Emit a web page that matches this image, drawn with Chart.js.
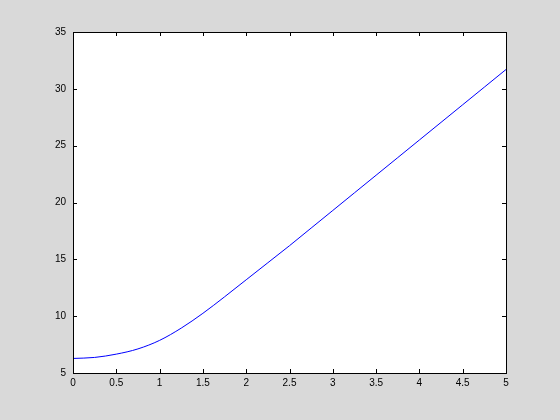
<!DOCTYPE html>
<html>
<head>
<meta charset="utf-8">
<script src="https://cdn.jsdelivr.net/npm/chart.js@4"></script>
<style>
  html, body { margin: 0; padding: 0; background: #d9d9d9; }
  #wrap { width: 560px; height: 420px; }
</style>
</head>
<body>
<div id="wrap"><canvas id="plot" width="560" height="420"></canvas></div>
<script>
// values
let xValues = [0, 0.25, 0.5, 0.75, 1, 1.25, 1.5, 1.75, 2, 2.25, 2.5, 2.75, 3, 3.25, 3.5, 3.75, 4, 4.25, 4.5, 4.75, 5]
let yValues = [6.28, 6.37, 6.66, 7.12, 7.87, 8.95, 10.25, 11.7, 13.2, 14.7, 16.2, 17.75, 19.3, 20.85, 22.4, 23.95, 25.5, 27.05, 28.6, 30.15, 31.7]
let xTicks = [0, 0.5, 1, 1.5, 2, 2.5, 3, 3.5, 4, 4.5, 5]
let yTicks = [5, 10, 15, 20, 25, 30, 35]

let points = xValues.map(function(x, i) { return { x: x, y: yValues[i] } })

// white axes box, with inward ticks on all four sides (matlab style)
let boxPlugin = {
    id: 'box',
    beforeDraw: function(chart) {
        let a = chart.chartArea
        let c = chart.ctx
        c.save()
        c.fillStyle = '#d9d9d9'
        c.fillRect(0, 0, chart.width, chart.height)
        c.fillStyle = '#ffffff'
        c.fillRect(a.left, a.top, a.right - a.left, a.bottom - a.top)
        c.restore()
    },
    afterDatasetsDraw: function(chart) {
        let a = chart.chartArea
        let c = chart.ctx
        let xs = chart.scales.x
        let ys = chart.scales.y
        let len = 4
        c.save()
        c.strokeStyle = '#000000'
        c.lineWidth = 1
        c.beginPath()
        xTicks.forEach(function(t) {
            let px = Math.round(xs.getPixelForValue(t)) + 0.5
            c.moveTo(px, a.bottom); c.lineTo(px, a.bottom - len)
            c.moveTo(px, a.top); c.lineTo(px, a.top + len)
        })
        yTicks.forEach(function(t) {
            let py = Math.round(ys.getPixelForValue(t)) + 0.5
            c.moveTo(a.left, py); c.lineTo(a.left + len, py)
            c.moveTo(a.right, py); c.lineTo(a.right - len, py)
        })
        c.stroke()
        c.strokeRect(Math.round(a.left) + 0.5, Math.round(a.top) + 0.5,
            Math.round(a.right - a.left), Math.round(a.bottom - a.top))
        c.restore()
    }
}

let tickFont = { family: 'Arial, "Liberation Sans", Helvetica, sans-serif', size: 10 }
// plain numbers: 1 not 1.0
let plainLabel = function(value) { return String(value) }

let ctx = document.querySelector('#plot').getContext('2d')
let chart = new Chart(ctx, {
    type: 'line',
    data: {
        datasets: [{
            data: points,
            borderColor: '#0000ff',
            borderWidth: 1,
            pointRadius: 0,
            fill: false,
            cubicInterpolationMode: 'monotone'
        }]
    },
    options: {
        responsive: false,
        animation: false,
        devicePixelRatio: 1,
        layout: { padding: { top: 32, right: 54, left: 0, bottom: 0 } },
        plugins: { legend: { display: false }, tooltip: { enabled: false } },
        scales: {
            x: {
                type: 'linear',
                min: 0,
                max: 5,
                afterBuildTicks: function(scale) { scale.ticks = xTicks.map(function(v) { return { value: v } }) },
                afterFit: function(scale) { scale.height = 47 },
                grid: { display: false, drawTicks: false },
                border: { display: false },
                ticks: { color: '#000000', font: tickFont, padding: 4, maxRotation: 0, autoSkip: false, callback: plainLabel }
            },
            y: {
                type: 'linear',
                min: 5,
                max: 35,
                afterBuildTicks: function(scale) { scale.ticks = yTicks.map(function(v) { return { value: v } }) },
                afterFit: function(scale) { scale.width = 73 },
                grid: { display: false, drawTicks: false },
                border: { display: false },
                ticks: { color: '#000000', font: tickFont, padding: 7, autoSkip: false, callback: plainLabel }
            }
        }
    },
    plugins: [boxPlugin]
})
</script>
</body>
</html>
